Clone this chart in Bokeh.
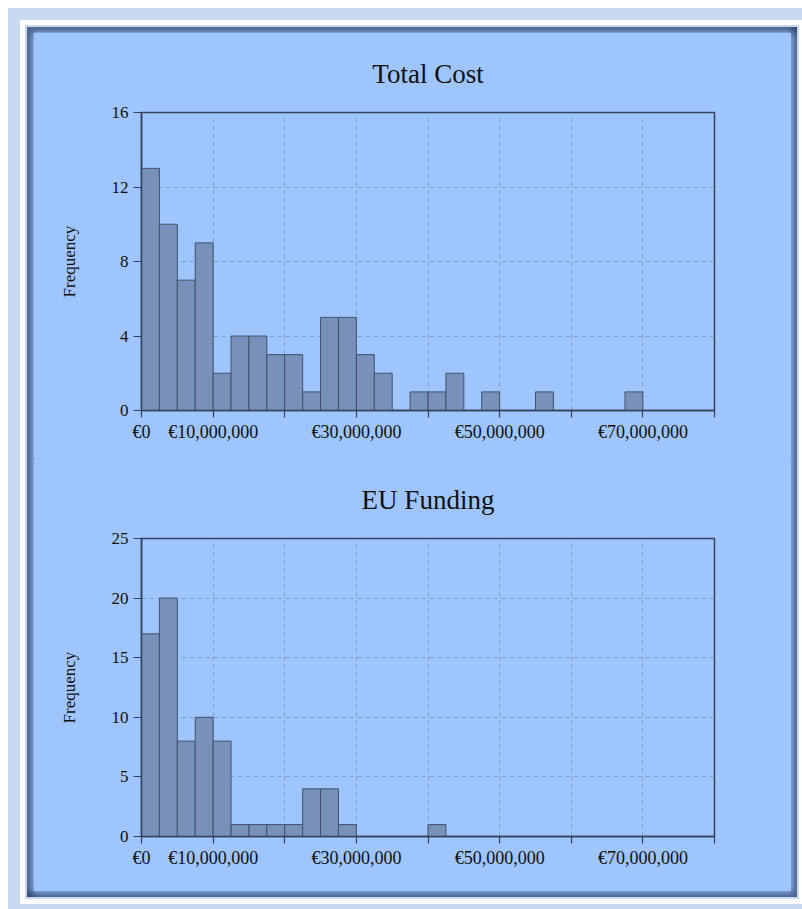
from bokeh.plotting import figure
from bokeh.layouts import column
from bokeh.models import FixedTicker, ColumnDataSource
from bokeh.embed import file_html
from bokeh.resources import INLINE

# ---- data ----
bin_starts = [0, 2.5e6, 5e6, 7.5e6, 10e6, 12.5e6, 15e6, 17.5e6, 20e6, 22.5e6,
              25e6, 27.5e6, 30e6, 32.5e6, 35e6, 37.5e6, 40e6, 42.5e6, 45e6, 47.5e6,
              50e6, 52.5e6, 55e6, 57.5e6, 60e6, 62.5e6, 65e6, 67.5e6, 70e6, 72.5e6,
              75e6, 77.5e6]
bin_width = 2.5e6
total_cost_counts = [13, 10, 7, 9, 2, 4, 4, 3, 3, 1,
                     5, 5, 3, 2, 0, 1, 1, 2, 0, 1,
                     0, 0, 1, 0, 0, 0, 0, 1, 0, 0,
                     0, 0]
eu_funding_counts = [17, 20, 8, 10, 8, 1, 1, 1, 1, 4,
                     4, 1, 0, 0, 0, 0, 1, 0, 0, 0,
                     0, 0, 0, 0, 0, 0, 0, 0, 0, 0,
                     0, 0]
x_tick_values = [0, 10e6, 20e6, 30e6, 40e6, 50e6, 60e6, 70e6, 80e6]
x_tick_labels = ["€0", "€10,000,000", "", "€30,000,000", "", "€50,000,000", "", "€70,000,000", ""]
total_cost_yticks = [0, 4, 8, 12, 16]
eu_funding_yticks = [0, 5, 10, 15, 20, 25]
titles = ["Total Cost", "EU Funding"]

# ---- style ----
PANEL = "#9fc5fe"
BAR_FILL = "#7791bb"
BAR_LINE = "#42516b"
FRAME = "#36425a"
GRID = "#7f9ac6"
FONT = "Liberation Serif"


def make_hist(title, counts, yticks, height, top_border, bottom_border):
    lefts = [s for s, c in zip(bin_starts, counts) if c > 0]
    rights = [s + bin_width for s, c in zip(bin_starts, counts) if c > 0]
    tops = [c for c in counts if c > 0]
    src = ColumnDataSource(dict(left=lefts, right=rights, top=tops))
    p = figure(width=758, height=height, x_range=(0, x_tick_values[-1]),
               y_range=(0, yticks[-1]), output_backend="svg", toolbar_location=None,
               min_border_left=108, min_border_right=77,
               min_border_top=top_border, min_border_bottom=bottom_border,
               background_fill_color=PANEL, border_fill_color=PANEL)
    p.quad(left="left", right="right", top="top", bottom=0, source=src,
           fill_color=BAR_FILL, line_color=BAR_LINE, line_width=1)

    p.title.text = title
    p.title.align = "center"
    p.title.text_font = FONT
    p.title.text_font_size = "27px"
    p.title.text_font_style = "normal"
    p.title.text_color = "#111111"
    p.title.standoff = 48

    p.outline_line_color = FRAME
    p.outline_line_width = 1.5

    p.xaxis.ticker = FixedTicker(ticks=x_tick_values)
    p.xaxis.major_label_overrides = {v: l for v, l in zip(x_tick_values, x_tick_labels)}
    p.yaxis.ticker = FixedTicker(ticks=yticks)
    p.yaxis.axis_label = "Frequency"

    for ax in (p.xaxis[0], p.yaxis[0]):
        ax.axis_line_color = FRAME
        ax.axis_line_width = 1.5
        ax.major_tick_line_color = FRAME
        ax.major_tick_line_width = 1.2
        ax.major_tick_out = 8
        ax.major_tick_in = 0
        ax.minor_tick_line_color = None
        ax.major_label_text_font = FONT
        ax.major_label_text_font_size = "18px"
        ax.major_label_text_color = "#111111"
        ax.major_label_standoff = 5
    p.yaxis.major_label_text_font_size = "17px"
    p.xaxis.major_tick_out = 7
    p.xaxis.major_label_standoff = 4
    p.yaxis.axis_label_text_font = FONT
    p.yaxis.axis_label_text_font_size = "17px"
    p.yaxis.axis_label_text_font_style = "normal"
    p.yaxis.axis_label_text_color = "#111111"
    p.yaxis.axis_label_standoff = 30

    p.xgrid.ticker = FixedTicker(ticks=x_tick_values)
    p.ygrid.ticker = FixedTicker(ticks=yticks)
    for g in (p.xgrid[0], p.ygrid[0]):
        g.grid_line_color = GRID
        g.grid_line_dash = "4 4"
        g.grid_line_width = 1
    return p


p1 = make_hist(titles[0], total_cost_counts, total_cost_yticks, 426, 79, 48)
p2 = make_hist(titles[1], eu_funding_counts, eu_funding_yticks, 433, 76, 55)

panel = column(p1, p2, spacing=0, styles={
    "background-color": PANEL,
    "padding": "5px 6px 6px 6px",
    "margin": "27px 0 0 27px",
    "box-shadow": ("inset 6px 6px 7px rgba(30,50,90,0.65), "
                   "inset -5px -5px 6px rgba(30,50,90,0.65), "
                   "0 0 0 2px #c8d8ee, 0 0 0 7px #ffffff, 0 0 0 19px #c8d8ee"),
})

open("out.html", "w").write(file_html(panel, INLINE))
